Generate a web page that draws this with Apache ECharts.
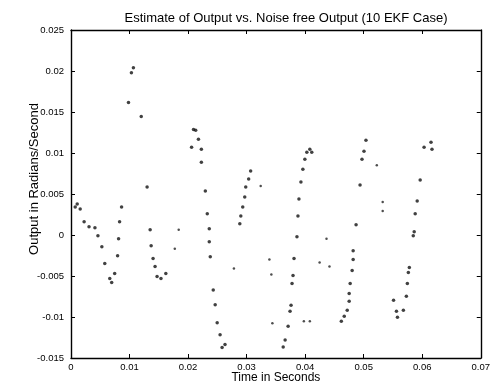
<!DOCTYPE html>
<html>
<head>
<meta charset="utf-8">
<script src="https://cdn.jsdelivr.net/npm/echarts@6/dist/echarts.min.js"></script>
<style>
  html, body { margin: 0; padding: 0; background: #fff; }
  #chart { width: 493px; height: 389px; }
</style>
</head>
<body>
<div id="chart"></div>
<script>
// estimate curve, one pair of arrays per piece (the estimate restarts every ~0.01 s)
const estTime = [
  [0.00072, 0.00106, 0.00157, 0.00224, 0.00308, 0.00409, 0.0046, 0.00527, 0.00577, 0.00662, 0.00695, 0.00746, 0.00796, 0.00813, 0.0083, 0.00864],
  [0.00982, 0.01032, 0.01066, 0.012, 0.0130, 0.01352, 0.01369, 0.01402, 0.01436, 0.0147, 0.01537, 0.0162],
  [0.0206, 0.02093, 0.0213, 0.02177, 0.02227, 0.02227, 0.02295, 0.02328, 0.02362, 0.02362, 0.02379, 0.0243, 0.02463, 0.02497, 0.02547, 0.02581, 0.02631],
  [0.02884, 0.02901, 0.02934, 0.02968, 0.02985, 0.03035, 0.03069],
  [0.03625, 0.03658, 0.03709, 0.03742, 0.03759, 0.03776, 0.03793, 0.0381, 0.0386, 0.03877, 0.03894, 0.03928, 0.03961, 0.03995, 0.04029, 0.0408, 0.04113],
  [0.04618, 0.04668, 0.04719, 0.04752, 0.04752, 0.04769, 0.04803, 0.0482, 0.0482, 0.0487, 0.04938, 0.04971, 0.05005, 0.05039],
  [0.0551, 0.0556, 0.05577, 0.05678, 0.05729, 0.05746, 0.05763, 0.0578, 0.05847, 0.05863, 0.0588, 0.05914, 0.05965, 0.06032, 0.0615, 0.06167]
];
const estOutput = [
  [0.00342, 0.00379, 0.00318, 0.00161, 0.001, 0.00088, -0.00009, -0.00142, -0.00348, -0.0053, -0.00579, -0.0047, -0.00252, -0.00045, 0.00161, 0.00342],
  [0.01615, 0.01979, 0.0204, 0.01445, 0.00585, 0.00064, -0.0013, -0.00288, -0.00385, -0.00506, -0.0053, -0.0047],
  [0.0107, 0.01288, 0.01276, 0.01167, 0.01045, 0.00888, 0.00536, 0.00258, 0.00076, -0.00082, -0.00264, -0.0067, -0.00852, -0.0107, -0.01215, -0.01373, -0.01336],
  [0.00136, 0.00233, 0.00342, 0.00464, 0.00585, 0.00682, 0.00779],
  [-0.01367, -0.01282, -0.01112, -0.0093, -0.00858, -0.00591, -0.00494, -0.00288, -0.00021, 0.00233, 0.00439, 0.00645, 0.00803, 0.00924, 0.01009, 0.01045, 0.01009],
  [-0.01052, -0.00991, -0.00918, -0.00809, -0.00712, -0.00591, -0.00433, -0.003, -0.00191, 0.00124, 0.00609, 0.00924, 0.01021, 0.01155],
  [-0.00797, -0.0093, -0.01003, -0.00918, -0.00748, -0.00591, -0.00458, -0.00397, -0.00009, 0.0004, 0.00258, 0.00415, 0.0067, 0.0107, 0.0113, 0.01045]
];
// loose points away from the curve
const strayTime = [0.0184, 0.01773, 0.02783, 0.0324, 0.03389, 0.03423, 0.0344, 0.03978, 0.0408, 0.04247, 0.04365, 0.04416, 0.05224, 0.05325, 0.05325];
const strayOutput = [0.00064, -0.00167, -0.00409, 0.00597, -0.003, -0.00482, -0.01076, -0.01052, -0.01052, -0.00336, -0.00045, -0.00385, 0.00852, 0.00294, 0.00403];

const xTicks = [0, 0.01, 0.02, 0.03, 0.04, 0.05, 0.06, 0.07];
const yTicks = [-0.015, -0.01, -0.005, 0, 0.005, 0.01, 0.015, 0.02, 0.025];

let curve = [];
estTime.forEach((ts, i) => {
  ts.forEach((t, j) => curve.push([t, estOutput[i][j]]));
});
let stray = strayTime.map((t, i) => [t, strayOutput[i]]);

const ink = "#000";
const font = "Liberation Sans";
const fmt = v => String(+v.toFixed(3));

function axisX(pos, labels) {
  return {
    type: "value", position: pos,
    min: xTicks[0], max: xTicks[xTicks.length - 1], interval: 0.01,
    axisLine: { show: true, onZero: false, lineStyle: { color: ink, width: 1.4 } },
    axisTick: { inside: true, length: 4, lineStyle: { color: ink } },
    axisLabel: { show: labels, formatter: fmt, color: ink, fontSize: 9.5, margin: 4, fontFamily: font },
    splitLine: { show: false }
  };
}
function axisY(pos, labels) {
  return {
    type: "value", position: pos,
    min: yTicks[0], max: yTicks[yTicks.length - 1], interval: 0.005,
    axisLine: { show: true, onZero: false, lineStyle: { color: ink, width: 1.4 } },
    axisTick: { inside: true, length: 4, lineStyle: { color: ink } },
    axisLabel: { show: labels, formatter: fmt, color: ink, fontSize: 9.5, margin: 7, fontFamily: font },
    splitLine: { show: false }
  };
}

let xMain = axisX("bottom", true);
xMain.name = "Time in Seconds";
xMain.nameLocation = "middle";
xMain.nameGap = 14;
xMain.nameMoveOverlap = false;
xMain.nameTextStyle = { color: ink, fontSize: 12, fontFamily: font };
let yMain = axisY("left", true);
yMain.name = "Output in Radians/Second";
yMain.nameLocation = "middle";
yMain.nameGap = 30;
yMain.nameMoveOverlap = false;
yMain.nameTextStyle = { color: ink, fontSize: 13, fontFamily: font, padding: [0, 0, 0, 30] };

let myChart = echarts.init(document.getElementById("chart"));
myChart.setOption({
  animation: false,
  backgroundColor: "#fff",
  title: {
    text: "Estimate of Output vs. Noise free Output (10 EKF Case)",
    left: 281, top: 7, textAlign: "center",
    textStyle: { color: ink, fontSize: 13, fontWeight: "normal", fontFamily: font }
  },
  grid: { left: 71, right: 6, top: 30, bottom: 29 },
  xAxis: [xMain, axisX("top", false)],
  yAxis: [yMain, axisY("right", false)],
  series: [
    {
      name: "Estimate",
      type: "scatter",
      data: curve,
      symbolSize: 3.5,
      itemStyle: { color: "#111" }
    },
    {
      name: "Stray",
      type: "scatter",
      data: stray,
      symbolSize: 2.5,
      itemStyle: { color: "#222" }
    }
  ]
});
</script>
</body>
</html>
